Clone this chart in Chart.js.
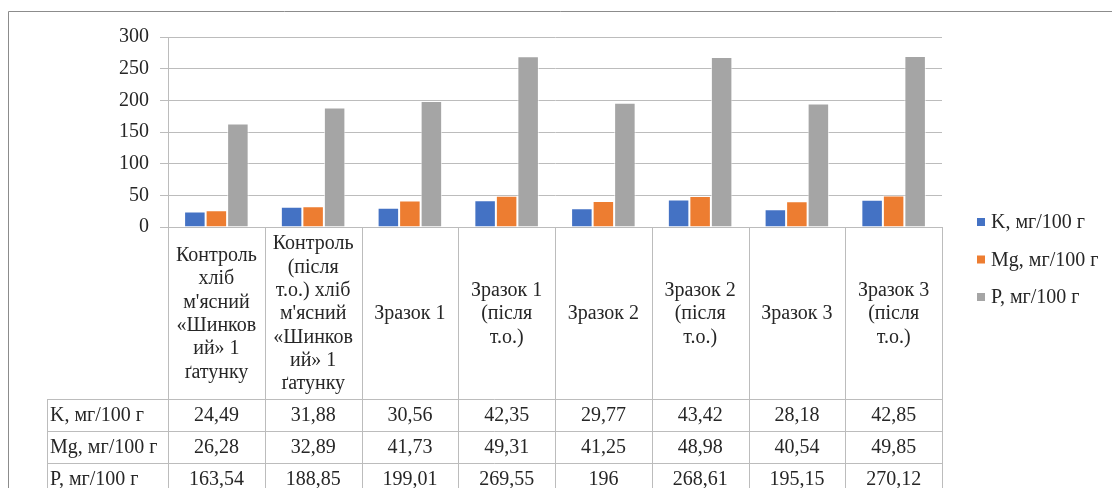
<!DOCTYPE html>
<html>
<head>
<meta charset="utf-8">
<script src="https://cdn.jsdelivr.net/npm/chart.js@4/dist/chart.umd.min.js"></script>
<style>
  html, body { margin: 0; padding: 0; background: #fff; }
  canvas { display: block; }
</style>
</head>
<body>
<canvas id="c" width="1112" height="488"></canvas>
<script>
// Sample names (already split into the lines shown in the table header)
const categories = [
  ['Контроль', 'хліб', "м'ясний", '«Шинков', 'ий» 1', 'ґатунку'],
  ['Контроль', '(після', 'т.о.) хліб', "м'ясний", '«Шинков', 'ий» 1', 'ґатунку'],
  ['Зразок 1'],
  ['Зразок 1', '(після', 'т.о.)'],
  ['Зразок 2'],
  ['Зразок 2', '(після', 'т.о.)'],
  ['Зразок 3'],
  ['Зразок 3', '(після', 'т.о.)']
];
const seriesNames = ['K, мг/100 г', 'Mg, мг/100 г', 'P, мг/100 г'];
const kValues  = [24.49, 31.88, 30.56, 42.35, 29.77, 43.42, 28.18, 42.85];
const mgValues = [26.28, 32.89, 41.73, 49.31, 41.25, 48.98, 40.54, 49.85];
const pValues  = [163.54, 188.85, 199.01, 269.55, 196, 268.61, 195.15, 270.12];
const yTicks = { min: 0, max: 300, step: 50 };

const colors = ['#4472C4', '#ED7D31', '#A5A5A5'];
const FONT = "'Liberation Serif', 'Times New Roman', serif";
const TEXT = '#262626';
const GRID = '#bcbcbc';

// Layout of the frame, data table and legend
const L = {
  frameX: 8.5, frameY: 11.5,
  plotLeft: 168, plotRight: 942, plotTop: 37, plotBottom: 227,
  headerBottom: 399, rowH: 32, rowLabelX: 47,
  legendX: 977, legendY: 222, legendGap: 37.5
};

const fmt = v => String(v).replace('.', ',');

const tablePlugin = {
  id: 'dataTable',
  afterDraw(chart) {
    const ctx = chart.ctx;
    const x = chart.scales.x;
    const area = chart.chartArea;
    const n = chart.data.labels.length;
    const H = chart.height;
    ctx.save();

    // outer frame
    ctx.strokeStyle = '#8c8c8c';
    ctx.lineWidth = 1;
    ctx.beginPath();
    ctx.moveTo(L.frameX, H);
    ctx.lineTo(L.frameX, L.frameY);
    ctx.lineTo(chart.width, L.frameY);
    ctx.stroke();

    // column boundaries from the category scale
    const bounds = [area.left];
    for (let i = 1; i < n; i++) {
      bounds.push(Math.round((x.getPixelForValue(i - 1) + x.getPixelForValue(i)) / 2));
    }
    bounds.push(area.right);

    ctx.strokeStyle = GRID;
    ctx.beginPath();
    bounds.forEach(b => {
      ctx.moveTo(Math.round(b) + 0.5, area.bottom);
      ctx.lineTo(Math.round(b) + 0.5, H);
    });
    ctx.moveTo(L.rowLabelX + 0.5, L.headerBottom);
    ctx.lineTo(L.rowLabelX + 0.5, H);
    for (let r = 0; r <= chart.data.datasets.length; r++) {
      const y = L.headerBottom + r * L.rowH + 0.5;
      ctx.moveTo(L.rowLabelX, y);
      ctx.lineTo(area.right + 0.5, y);
    }
    ctx.stroke();

    ctx.fillStyle = TEXT;
    ctx.font = '20px ' + FONT;
    ctx.textBaseline = 'middle';

    // header: category names
    ctx.textAlign = 'center';
    const lh = 23.3;
    const hc = (area.bottom + L.headerBottom) / 2;
    chart.data.labels.forEach((lines, i) => {
      const cx = x.getPixelForValue(i);
      const y0 = hc - (lines.length - 1) * lh / 2;
      lines.forEach((t, k) => ctx.fillText(t, cx, y0 + k * lh + 1));
    });

    // value rows
    chart.data.datasets.forEach((ds, r) => {
      const cy = L.headerBottom + r * L.rowH + L.rowH / 2 + 1;
      ctx.textAlign = 'left';
      ctx.fillText(ds.label, L.rowLabelX + 3, cy);
      ctx.textAlign = 'center';
      ds.data.forEach((v, i) => ctx.fillText(fmt(v), x.getPixelForValue(i), cy));
    });

    // legend
    chart.data.datasets.forEach((ds, r) => {
      const cy = L.legendY + r * L.legendGap;
      ctx.fillStyle = ds.backgroundColor;
      ctx.fillRect(L.legendX, cy - 4, 8, 8);
      ctx.fillStyle = TEXT;
      ctx.textAlign = 'left';
      ctx.fillText(ds.label, L.legendX + 14, cy + 1);
    });

    ctx.restore();
  }
};

const barStyle = { borderColor: 'rgba(255,255,255,0.65)', borderWidth: 1 };

new Chart(document.getElementById('c'), {
  type: 'bar',
  data: {
    labels: categories,
    datasets: [
      { label: seriesNames[0], data: kValues,  backgroundColor: colors[0], ...barStyle },
      { label: seriesNames[1], data: mgValues, backgroundColor: colors[1], ...barStyle },
      { label: seriesNames[2], data: pValues,  backgroundColor: colors[2], ...barStyle }
    ]
  },
  options: {
    responsive: false,
    animation: false,
    events: [],
    categoryPercentage: 0.667,
    barPercentage: 1.0,
    layout: {
      padding: { left: 0, top: L.plotTop, right: 1112 - L.plotRight, bottom: 488 - L.plotBottom }
    },
    plugins: { legend: { display: false }, tooltip: { enabled: false } },
    scales: {
      x: { display: false },
      y: {
        min: yTicks.min, max: yTicks.max,
        ticks: { stepSize: yTicks.step, padding: 11, color: TEXT, font: { family: FONT, size: 20 } },
        grid: { color: GRID, tickLength: 8, drawTicks: true },
        border: { color: GRID },
        afterFit(s) { s.width = L.plotLeft; }
      }
    }
  },
  plugins: [tablePlugin]
});
</script>
</body>
</html>
